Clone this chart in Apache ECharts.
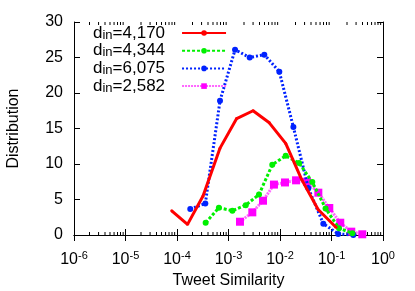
<!DOCTYPE html>
<html><head><meta charset="utf-8">
<script src="https://cdn.jsdelivr.net/npm/echarts@6/dist/echarts.min.js"></script>
<style>html,body{margin:0;padding:0;background:#fff}#c{width:415px;height:291px}</style>
</head><body><div id="c"></div>
<script>
const seriesNames = ['d_in=4,170', 'd_in=4,344', 'd_in=6,075', 'd_in=2,582'];
const redX = [7.9e-5, 1.6e-4, 3.2e-4, 6.8e-4, 1.44e-3, 3.0e-3, 6.2e-3, 1.29e-2, 2.64e-2, 5.5e-2, 0.122];
const redY = [3.4, 1.5, 5.5, 12.2, 16.4, 17.5, 15.8, 12.9, 7.8, 3.6, 1.1];
const greenX = [3.6e-4, 6.5e-4, 1.19e-3, 2.16e-3, 3.91e-3, 7.08e-3, 1.29e-2, 2.34e-2, 4.24e-2, 7.67e-2, 0.14, 0.254];
const greenY = [1.73, 3.85, 3.42, 4.2, 5.7, 9.9, 11.15, 10.15, 7.45, 3.75, 0.95, 0.24];
const blueX = [1.81e-4, 3.55e-4, 6.84e-4, 1.34e-3, 2.58e-3, 4.96e-3, 9.7e-3, 1.82e-2, 3.55e-2, 6.93e-2, 0.135, 0.265];
const blueY = [3.66, 4.45, 18.9, 26.1, 25.0, 25.4, 23.0, 15.2, 6.6, 1.6, 0.15, 0.0];
const pinkX = [1.67e-3, 2.9e-3, 4.68e-3, 7.63e-3, 1.25e-2, 2.05e-2, 3.34e-2, 5.55e-2, 9.06e-2, 0.148, 0.242, 0.396];
const pinkY = [1.87, 3.19, 4.83, 7.1, 7.4, 7.7, 7.5, 5.96, 3.8, 1.73, 0.47, 0.1];
const yTicks = [0, 5, 10, 15, 20, 25, 30];

const FONT = 'Liberation Sans';
const pair = (xs, ys) => xs.map((x, i) => [x, ys[i]]);

// minor tick positions for the log axis (2..9 x 10^k)
const minorTicks = [];
for (let e = -6; e < 0; e++) for (let m = 2; m <= 9; m++) minorTicks.push(m * Math.pow(10, e));

const chart = echarts.init(document.getElementById('c'), null, {renderer: 'canvas'});
const axisLine = {show: true, lineStyle: {color: '#000', width: 1}};
const option = {
  animation: false,
  backgroundColor: '#fff',
  textStyle: {fontFamily: FONT},
  grid: {left: 74, right: 32, top: 22, bottom: 56, show: false, containLabel: false, outerBoundsMode: 'none'},
  legend: {
    orient: 'vertical', left: 93, top: 18.5, align: 'right', padding: 0,
    itemWidth: 44, itemHeight: 7, itemGap: -5.3,
    data: seriesNames,
    formatter: n => '{d|d}{s|in}{d|' + n.slice(4) + '}',
    textStyle: {
      fontFamily: FONT, color: '#000', padding: [0, 12, 0, 0],
      rich: {
        d: {fontSize: 17, lineHeight: 17, fontFamily: FONT, color: '#000', verticalAlign: 'middle'},
        s: {fontSize: 13, lineHeight: 13, fontFamily: FONT, color: '#000', verticalAlign: 'bottom', padding: [10, 0, 0, 0]}
      }
    }
  },
  xAxis: [{
    type: 'log', logBase: 10, min: 1e-6, max: 1, splitNumber: 6,
    name: 'Tweet Similarity', nameLocation: 'middle', nameGap: 36,
    nameTextStyle: {fontSize: 16, fontFamily: FONT, color: '#000'},
    axisLine: axisLine,
    axisTick: {show: true, inside: true, length: 6, lineStyle: {color: '#000'}},
    splitLine: {show: false},
    axisLabel: {
      margin: 15, color: '#000',
      formatter: v => '{b|10}{p|' + Math.round(Math.log10(v)) + '}',
      rich: {
        b: {fontSize: 16, fontFamily: FONT, color: '#000'},
        p: {fontSize: 11, fontFamily: FONT, color: '#000', verticalAlign: 'top', padding: [0, 0, 9, 0]}
      }
    }
  }, {
    type: 'log', logBase: 10, min: 1e-6, max: 1, splitNumber: 6, position: 'top',
    axisLine: axisLine,
    axisTick: {show: true, inside: true, length: 6, lineStyle: {color: '#000'}},
    axisLabel: {show: false}, splitLine: {show: false}
  }],
  yAxis: [{
    type: 'value', min: 0, max: 30, interval: 5,
    name: 'Distribution', nameLocation: 'middle', nameGap: 52, nameRotate: 90,
    nameTextStyle: {fontSize: 16, fontFamily: FONT, color: '#000'},
    axisLine: axisLine,
    axisTick: {show: true, inside: true, length: 6, lineStyle: {color: '#000'}},
    splitLine: {show: false},
    axisLabel: {margin: 11, fontSize: 16, fontFamily: FONT, color: '#000',
      formatter: v => yTicks.includes(v) ? String(v) : ''}
  }, {
    type: 'value', min: 0, max: 30, interval: 5, position: 'right',
    axisLine: axisLine,
    axisTick: {show: true, inside: true, length: 6, lineStyle: {color: '#000'}},
    axisLabel: {show: false}, splitLine: {show: false}
  }],
  series: [
    {
      type: 'custom', name: 'minor', silent: true, xAxisIndex: 0, yAxisIndex: 0,
      data: minorTicks.map(v => [v, 0]),
      renderItem: (params, api) => {
        const b = api.coord([api.value(0), 0]);
        const t = api.coord([api.value(0), 30]);
        return {type: 'group', children: [
          {type: 'line', shape: {x1: b[0], y1: b[1], x2: b[0], y2: b[1] - 3}, style: {stroke: '#000', lineWidth: 1}},
          {type: 'line', shape: {x1: t[0], y1: t[1], x2: t[0], y2: t[1] + 3}, style: {stroke: '#000', lineWidth: 1}}
        ]};
      },
      clip: false, z: 1
    },
    {
      name: seriesNames[0], type: 'line', data: pair(redX, redY),
      symbol: 'circle', symbolSize: 3, color: '#ff0000',
      lineStyle: {color: '#ff0000', width: 3}, itemStyle: {color: '#ff0000'}, z: 5
    },
    {
      name: seriesNames[1], type: 'line', data: pair(greenX, greenY),
      symbol: 'circle', symbolSize: 6, color: '#00f000',
      lineStyle: {color: '#00f000', width: 3, type: [3, 2]}, itemStyle: {color: '#00f000'}, z: 4
    },
    {
      name: seriesNames[2], type: 'line', data: pair(blueX, blueY),
      symbol: 'circle', symbolSize: 6, color: '#0022ff',
      lineStyle: {color: '#0022ff', width: 3, type: [2, 2]}, itemStyle: {color: '#0022ff'}, z: 3
    },
    {
      name: seriesNames[3], type: 'line', data: pair(pinkX, pinkY),
      symbol: 'rect', symbolSize: 8, color: '#ff00ff',
      lineStyle: {color: '#ff66ff', width: 3, type: [2, 1]}, itemStyle: {color: '#ff00ff'}, z: 2
    }
  ]
};
chart.setOption(option);
</script>
</body></html>
